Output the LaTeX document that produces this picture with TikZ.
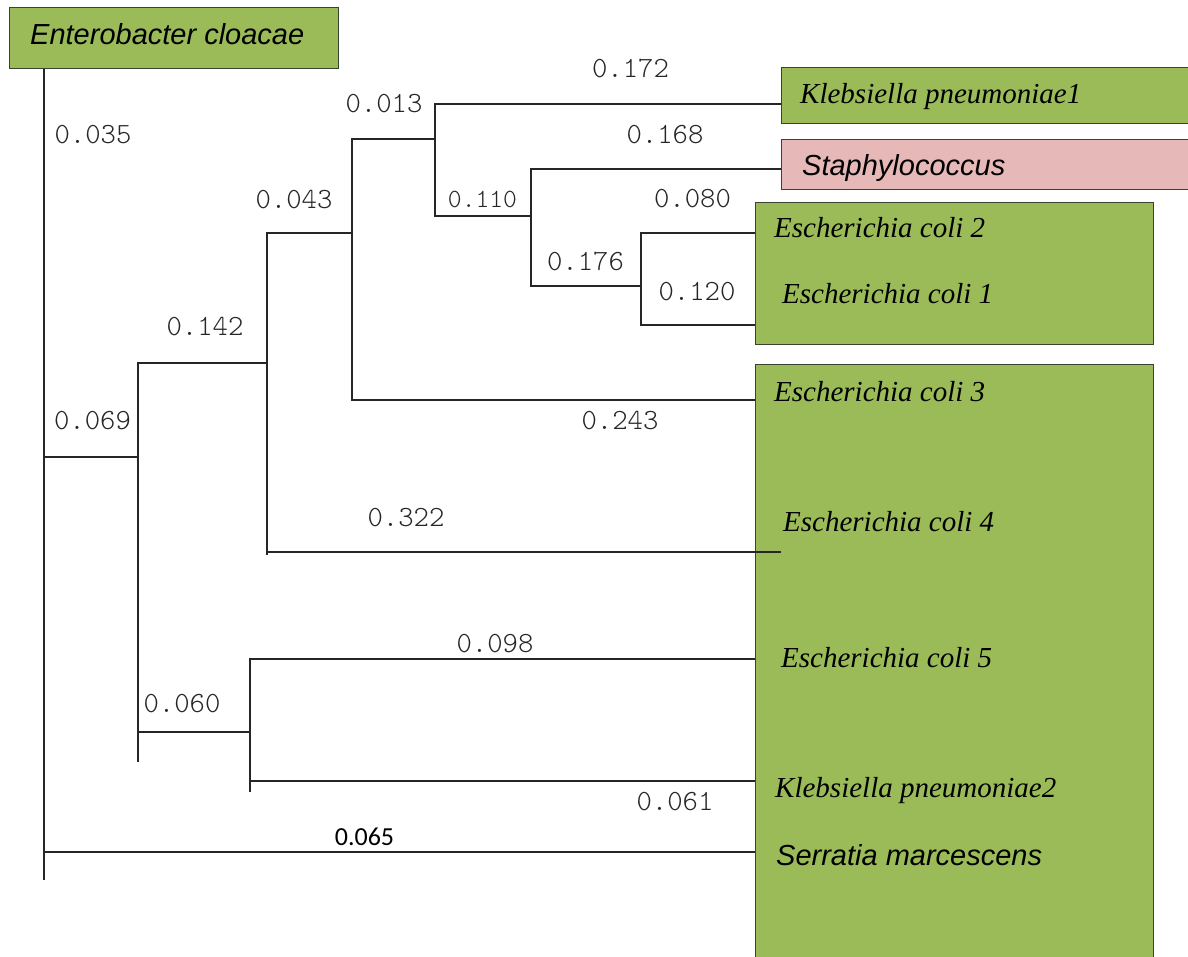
\documentclass[tikz,border=0pt]{standalone}
\usepackage{fontspec}
\setmainfont{Liberation Serif}
\setsansfont{Liberation Sans}
\newfontfamily\calfont{Carlito}

\definecolor{leafgreen}{HTML}{9BBB59}
\definecolor{leafpink}{HTML}{E6B9B8}
\definecolor{boxline}{HTML}{3A4330}

\tikzset{
	taxon/.style={draw=boxline, line width=1.4pt, anchor=north west, inner sep=0pt},
	branch/.style={line width=1.2pt, black!85},
	blen/.style={inner sep=0pt, text=black!85, font=\ttfamily\fontseries{l}\fontsize{29.3}{32}\selectfont},
	sp/.style={anchor=base west, inner sep=0pt, font=\rmfamily\itshape\fontsize{29}{32}\selectfont},
	spsans/.style={anchor=base west, inner sep=0pt, font=\sffamily\itshape\fontsize{29}{32}\selectfont},
}

\begin{document}
\begin{tikzpicture}[x=1pt,y=-1pt]
	\useasboundingbox (0,0) rectangle (1188,957);

	\node[taxon, fill=leafgreen, minimum width=329, minimum height=61] (encl) at (9,7) {};
	\node[taxon, fill=leafgreen, minimum width=420, minimum height=56] (kp1box) at (781,67) {};
	\node[taxon, fill=leafpink, minimum width=420, minimum height=50] (stbox) at (781,139) {};
	\node[taxon, fill=leafgreen, minimum width=398, minimum height=142] (ecbox) at (755,202) {};
	\node[taxon, fill=leafgreen, minimum width=398, minimum height=610] (bigbox) at (755,364) {};

	\node[spsans] (t_encl) at (30,45) {Enterobacter cloacae};
	\node[sp] (t_kp1) at (800,104) {Klebsiella pneumoniae1};
	\node[spsans] (t_st) at (802,176) {Staphylococcus};
	\node[sp] (t_ec2) at (774,238) {Escherichia coli 2};
	\node[sp] (t_ec1) at (782,304) {Escherichia coli 1};
	\node[sp] (t_ec3) at (774,401) {Escherichia coli 3};
	\node[sp] (t_ec4) at (783,531) {Escherichia coli 4};
	\node[sp] (t_ec5) at (781,667) {Escherichia coli 5};
	\node[sp] (t_kp2) at (775,797) {Klebsiella pneumoniae2};
	\node[spsans] (t_sm) at (776,865) {Serratia marcescens};

	\coordinate (root) at (44,880);
	\coordinate (n1) at (138,457);
	\coordinate (n1s) at (138,762);
	\coordinate (n2) at (267,363);
	\coordinate (n2s) at (267,555);
	\coordinate (n3) at (352,233);
	\coordinate (n4) at (435,139);
	\coordinate (n5) at (531,216);
	\coordinate (n6) at (641,286);
	\coordinate (n7) at (250,732);
	\coordinate (n7s) at (250,792);

	\coordinate (kp1) at (781,104);
	\coordinate (st) at (781,169);
	\coordinate (ec2) at (755,233);
	\coordinate (ec1) at (755,325);
	\coordinate (ec3) at (755,400);
	\coordinate (ec4) at (781,552);
	\coordinate (ec5) at (755,659);
	\coordinate (kp2) at (755,781);
	\coordinate (sm) at (755,852);

	\draw[branch] (encl.south -| root) -- (root) (root |- n1) -- (n1) (root |- sm) -- (sm);
	\draw[branch] (n2) -| (n1s) (n7) -- (n1 |- n7);
	\draw[branch] (n3) -| (n2s) (n2 |- ec4) -- (ec4);
	\draw[branch] (n4) -| (n3 |- ec3) -- (ec3);
	\draw[branch] (kp1) -| (n4 |- n5) -- (n5);
	\draw[branch] (st) -| (n5 |- n6) -- (n6);
	\draw[branch] (ec2) -| (n6 |- ec1) -- (ec1);
	\draw[branch] (ec5) -| (n7s) (n7 |- kp2) -- (kp2);

	\node[blen] (l035) at (93,134.5) {0.035};
	\node[blen] (l069) at (92.5,421) {0.069};
	\node[blen] (l142) at (205,327) {0.142};
	\node[blen] (l043) at (294,199.5) {0.043};
	\node[blen] (l013) at (384,104) {0.013};
	\node[blen] (l172) at (630.5,68.5) {0.172};
	\node[blen] (l168) at (665,134.5) {0.168};
	\node[blen, font=\ttfamily\fontseries{l}\fontsize{26.3}{29}\selectfont] (l110) at (482.5,199) {0.110};
	\node[blen] (l080) at (692.5,198.5) {0.080};
	\node[blen] (l176) at (585.5,261.5) {0.176};
	\node[blen] (l120) at (697,291.5) {0.120};
	\node[blen] (l243) at (620,421) {0.243};
	\node[blen] (l322) at (406,517.5) {0.322};
	\node[blen] (l098) at (495,644) {0.098};
	\node[blen] (l060) at (182,704) {0.060};
	\node[blen] (l061) at (675,802) {0.061};
	\node[inner sep=0pt, font=\calfont\fontsize{26}{28}\selectfont] (l065) at (364.5,837) {0.065};
\end{tikzpicture}
\end{document}
